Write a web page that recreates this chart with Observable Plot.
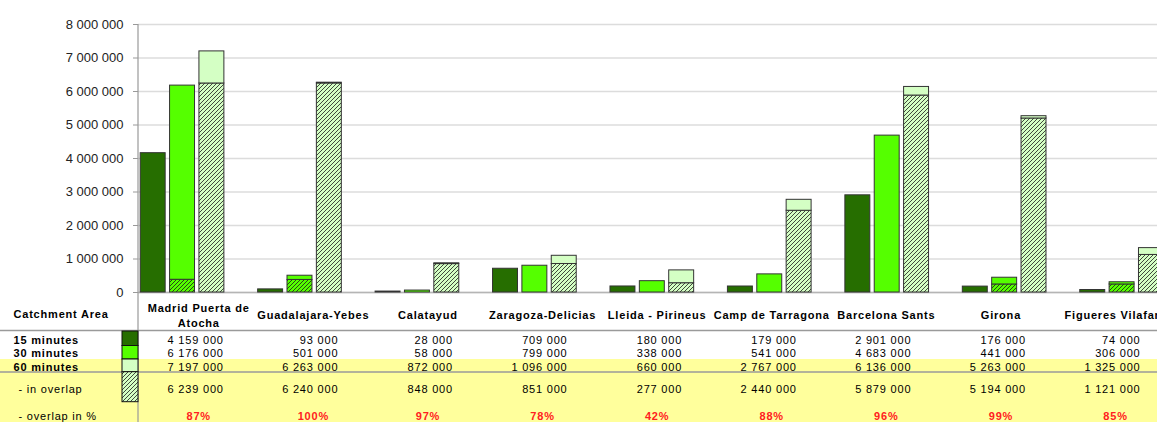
<!DOCTYPE html>
<html><head><meta charset="utf-8">
<script src="https://cdn.jsdelivr.net/npm/d3@7"></script>
<script src="https://cdn.jsdelivr.net/npm/@observablehq/plot@0.6"></script>
<style>
html,body{margin:0;padding:0;background:#fff;overflow:hidden;}
#chart{width:1157px;height:422px;overflow:hidden;}
#chart svg{max-width:none !important;width:1195px;height:422px;}
svg g[aria-label="text"] text{letter-spacing:0.8px;}
</style></head><body><div id="chart"></div>
<script>
const stations = ["Madrid Puerta de\nAtocha","Guadalajara-Yebes","Calatayud","Zaragoza-Delicias","Lleida - Pirineus","Camp de Tarragona","Barcelona Sants","Girona","Figueres Vilafant"];
const min15 = [4159000, 93000, 28000, 709000, 180000, 179000, 2901000, 176000, 74000];
const min30 = [6176000, 501000, 58000, 799000, 338000, 541000, 4683000, 441000, 306000];
const min60 = [7197000, 6263000, 872000, 1096000, 660000, 2767000, 6136000, 5263000, 1325000];
const overlap60 = [6239000, 6240000, 848000, 851000, 277000, 2440000, 5879000, 5194000, 1121000];
const overlap30 = [380000, 375000, 0, 0, 0, 0, 0, 240000, 240000];
const overlapPct = [87, 100, 97, 78, 42, 88, 96, 99, 85];
const yTicks = [0, 1000000, 2000000, 3000000, 4000000, 5000000, 6000000, 7000000, 8000000];
const seriesKeys = ["15", "30", "60", "gap"];
const headerLabel = "Catchment Area";
const rowLabels = ["15 minutes", "30 minutes", "60 minutes", "- in overlap", "- overlap in %"];

const C15 = "#266e00", C30 = "#55ff00", C60 = "#d4ffc4";
const W = 1195, ML = 138, H = 422, MT = 24, MB = 130;
const step = (W - ML) / (stations.length * seriesKeys.length);
const groupStep = step * seriesKeys.length;
const tableStep = 114.6;           // data-table column pitch (slightly narrower than the bar groups)
const fmt = d => d3.format(",")(d).replace(/,/g, " ");

const keys = stations.flatMap((_, i) => seriesKeys.map(s => i + "|" + s));
const segs = [];
stations.forEach((st, i) => {
  segs.push({x: i + "|15", y1: 0, y2: min15[i], fill: C15});
  if (overlap30[i] > 0) segs.push({x: i + "|30", y1: 0, y2: overlap30[i], fill: "url(#hatch30)"});
  segs.push({x: i + "|30", y1: overlap30[i], y2: min30[i], fill: C30});
  segs.push({x: i + "|60", y1: 0, y2: overlap60[i], fill: "url(#hatch60)"});
  segs.push({x: i + "|60", y1: overlap60[i], y2: min60[i], fill: C60});
});

const idx = stations.map((_, i) => i);
const colKey = i => i + "|30";
// offset from slot "30" centre to the table column centre
const colDx = i => step / 2 + 1.5 + i * (tableStep - groupStep);

const rowDy = [48, 61, 75, 97, 124];
const numRows = [min15, min30, min60, overlap60];
const T = {frameAnchor: "bottom", lineAnchor: "middle", fontSize: 11, fill: "#000"};

const tableMarks = idx.flatMap(i => [
  Plot.text([i], {...T, x: colKey, text: j => stations[j], dy: 22, dx: colDx(i), fontWeight: "bold", lineHeight: 1.35}),
  ...numRows.map((arr, r) => Plot.text([i], {...T, x: colKey, text: j => fmt(arr[j]),
    dy: rowDy[r], dx: colDx(i) + 25, textAnchor: "end"})),
  Plot.text([i], {...T, x: colKey, text: j => overlapPct[j] + "%", dy: rowDy[4], dx: colDx(i),
    fontWeight: "bold", fill: "#ff2020"})
]);

const marks = [
  Plot.gridY(yTicks, {stroke: "#dcdcdc", strokeOpacity: 1, strokeWidth: 1.5}),
  Plot.ruleY([0], {stroke: "#b5b5b5", strokeWidth: 1.5}),
  Plot.axisY(yTicks, {tickFormat: fmt, tickSize: 5, tickPadding: 10, fontSize: 13, stroke: "#999", fill: "#222", label: null}),
  Plot.barY(segs, {x: "x", y1: "y1", y2: "y2", fill: "fill", stroke: "#333", strokeWidth: 1}),
  ...tableMarks,
  Plot.text([headerLabel], {...T, text: d => d, frameAnchor: "bottom-left", dx: -125, dy: 22, textAnchor: "start",
    fontWeight: "bold"}),
  ...rowLabels.map((lab, r) => Plot.text([lab], {...T, text: d => d, frameAnchor: "bottom-left",
    dx: r < 3 ? -125 : -120, dy: rowDy[r], textAnchor: "start", fontWeight: r < 3 ? "bold" : "normal"}))
];

const plot = Plot.plot({
  width: W, height: H,
  marginLeft: ML, marginRight: 0, marginTop: MT, marginBottom: MB,
  x: {domain: keys, paddingInner: 0.15, paddingOuter: 0.075, round: false, axis: null},
  y: {domain: [0, 8000000]},
  color: {type: "identity"},
  style: {fontFamily: "'Liberation Sans', Arial, sans-serif", background: "white", overflow: "visible", maxWidth: "none"},
  marks
});

const svg = d3.select(plot);
const defs = svg.insert("defs", ":first-child");
function hatch(id, bg) {
  const p = defs.append("pattern").attr("id", id).attr("patternUnits", "userSpaceOnUse")
    .attr("width", 4).attr("height", 4);
  p.append("rect").attr("width", 4).attr("height", 4).attr("fill", bg);
  p.append("path").attr("d", "M-1,1 l2,-2 M0,4 l4,-4 M3,5 l2,-2").attr("stroke", "#1a1a1a").attr("stroke-width", 0.8);
}
hatch("hatch60", C60);
hatch("hatch30", C30);

// table background and rules
const bg = svg.insert("g", "defs + *");
bg.append("rect").attr("x", 0).attr("y", 359).attr("width", W).attr("height", H - 359).attr("fill", "#ffff9c");
const deco = svg.append("g");
deco.append("line").attr("x1", 0).attr("x2", W).attr("y1", 330.5).attr("y2", 330.5).attr("stroke", "#9a9a9a").attr("stroke-width", 1.5);
deco.append("line").attr("x1", 0).attr("x2", W).attr("y1", 372).attr("y2", 372).attr("stroke", "#9a9a9a").attr("stroke-width", 1.5);
deco.append("line").attr("x1", ML).attr("x2", ML).attr("y1", MT).attr("y2", H).attr("stroke", "#999").attr("stroke-width", 1.2);
// legend swatches
const sw = [[331, 14.5, C15], [345.5, 13.5, C30], [359, 12.7, C60], [371.7, 30, "url(#hatch60)"]];
sw.forEach(([y, h, f]) => deco.append("rect").attr("x", 122).attr("y", y).attr("width", 16).attr("height", h)
  .attr("fill", f).attr("stroke", "#111").attr("stroke-width", 1));

document.getElementById("chart").append(plot);
</script></body></html>
